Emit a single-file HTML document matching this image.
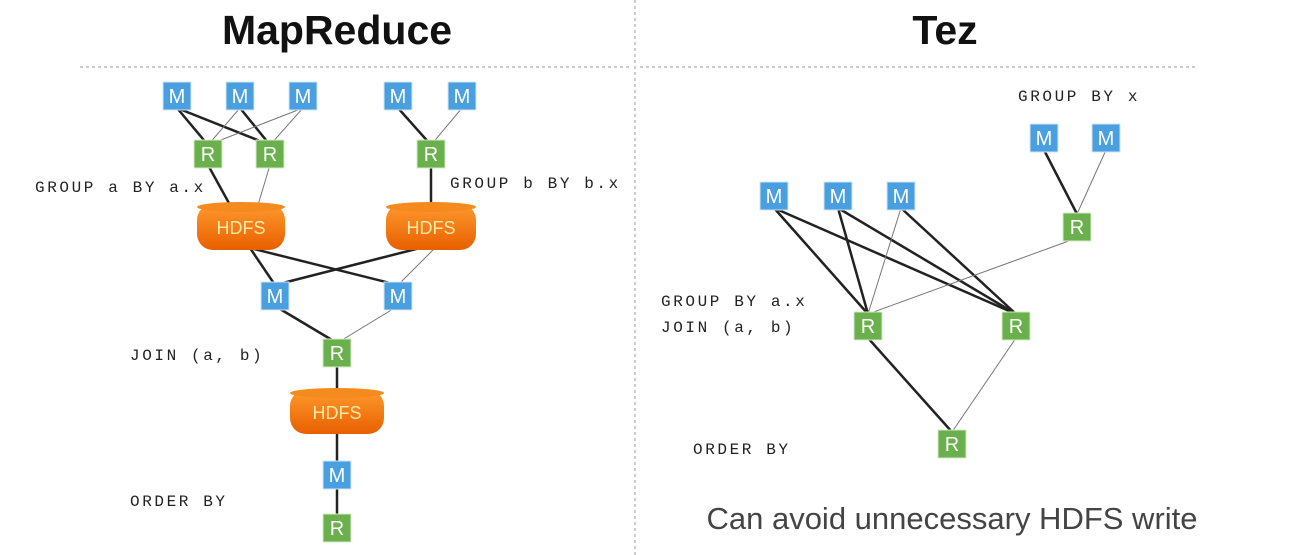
<!DOCTYPE html>
<html><head><meta charset="utf-8"><style>
html,body{margin:0;padding:0;background:#fff;width:1302px;height:555px;overflow:hidden}
</style></head><body>
<svg width="1302" height="555" xmlns="http://www.w3.org/2000/svg">
<defs>
<linearGradient id="hg" x1="0" y1="0" x2="0" y2="1"><stop offset="0" stop-color="#ff9a2e"/><stop offset="1" stop-color="#e85f00"/></linearGradient>
</defs>
<text x="337" y="44" text-anchor="middle" font-family="Liberation Sans, sans-serif" font-weight="bold" font-size="41" fill="#111">MapReduce</text>
<text x="945" y="44" text-anchor="middle" font-family="Liberation Sans, sans-serif" font-weight="bold" font-size="41" fill="#111">Tez</text>
<line x1="80" y1="67" x2="630" y2="67" stroke="#999" stroke-dasharray="3,3"/>
<line x1="640" y1="67" x2="1195" y2="67" stroke="#999" stroke-dasharray="3,3"/>
<line x1="635" y1="0" x2="635" y2="555" stroke="#999" stroke-dasharray="3,3"/>
<g stroke="#222" fill="none">
<g stroke-width="2.5">
<line x1="177" y1="108" x2="208" y2="145"/><line x1="177" y1="108" x2="270" y2="145"/>
<line x1="240" y1="108" x2="270" y2="145"/>
<line x1="208" y1="165" x2="230" y2="205"/>
<line x1="398" y1="108" x2="431" y2="145"/><line x1="431" y1="165" x2="431" y2="205"/>
<line x1="250" y1="248" x2="275" y2="285"/><line x1="250" y1="248" x2="398" y2="285"/>
<line x1="275" y1="285" x2="420" y2="248"/>
<line x1="275" y1="306" x2="337" y2="343"/>
<line x1="337" y1="363" x2="337" y2="392"/><line x1="337" y1="432" x2="337" y2="463"/><line x1="337" y1="488" x2="337" y2="516"/>
<line x1="774" y1="208" x2="868" y2="314"/><line x1="774" y1="208" x2="1016" y2="314"/>
<line x1="838" y1="208" x2="868" y2="314"/><line x1="838" y1="208" x2="1016" y2="314"/>
<line x1="901" y1="208" x2="1016" y2="314"/>
<line x1="1044" y1="150" x2="1077" y2="214"/>
<line x1="868" y1="338" x2="952" y2="432"/>
</g>
<g stroke-width="1" stroke="#777">
<line x1="240" y1="108" x2="208" y2="145"/><line x1="303" y1="108" x2="208" y2="145"/><line x1="303" y1="108" x2="270" y2="145"/>
<line x1="270" y1="165" x2="258" y2="205"/>
<line x1="462" y1="108" x2="431" y2="145"/>
<line x1="435" y1="248" x2="398" y2="285"/>
<line x1="398" y1="306" x2="337" y2="343"/>
<line x1="901" y1="208" x2="868" y2="314"/>
<line x1="1077" y1="238" x2="868" y2="314"/>
<line x1="1106" y1="150" x2="1077" y2="214"/>
<line x1="1016" y1="338" x2="952" y2="432"/>
</g>
</g>
<g font-family="Liberation Sans, sans-serif" font-size="20" text-anchor="middle">
<g fill="#4a9fe0" stroke="#cfe6f8" stroke-width="1">
<rect x="163" y="82" width="28" height="28"/><rect x="226" y="82" width="28" height="28"/><rect x="289" y="82" width="28" height="28"/>
<rect x="384" y="82" width="28" height="28"/><rect x="448" y="82" width="28" height="28"/>
<rect x="261" y="282" width="28" height="28"/><rect x="384" y="282" width="28" height="28"/>
<rect x="323" y="461" width="28" height="28"/>
<rect x="1030" y="124" width="28" height="28"/><rect x="1092" y="124" width="28" height="28"/>
<rect x="760" y="182" width="28" height="28"/><rect x="824" y="182" width="28" height="28"/><rect x="887" y="182" width="28" height="28"/>
</g>
<g fill="#6ab04c" stroke="#d6ecc9" stroke-width="1">
<rect x="194" y="140" width="28" height="28"/><rect x="256" y="140" width="28" height="28"/><rect x="417" y="140" width="28" height="28"/>
<rect x="323" y="339" width="28" height="28"/><rect x="323" y="514" width="28" height="28"/>
<rect x="1063" y="213" width="28" height="28"/>
<rect x="854" y="312" width="28" height="28"/><rect x="1002" y="312" width="28" height="28"/><rect x="938" y="430" width="28" height="28"/>
</g>
<g fill="#fff">
<text x="177" y="103">M</text><text x="240" y="103">M</text><text x="303" y="103">M</text><text x="398" y="103">M</text><text x="462" y="103">M</text>
<text x="275" y="303">M</text><text x="398" y="303">M</text><text x="337" y="482">M</text>
<text x="1044" y="145">M</text><text x="1106" y="145">M</text>
<text x="774" y="203">M</text><text x="838" y="203">M</text><text x="901" y="203">M</text>
<text x="208" y="161">R</text><text x="270" y="161">R</text><text x="431" y="161">R</text>
<text x="337" y="360">R</text><text x="337" y="535">R</text>
<text x="1077" y="234">R</text><text x="868" y="333">R</text><text x="1016" y="333">R</text><text x="952" y="451">R</text>
</g>
</g>
<g font-family="Liberation Sans, sans-serif" font-size="18" text-anchor="middle">
<g><rect x="197" y="204" width="88" height="46" rx="16" fill="url(#hg)"/><ellipse cx="241" cy="207" rx="44" ry="5" fill="#f58a1f"/><text x="241" y="234" fill="#ffe9a8">HDFS</text></g>
<g><rect x="386" y="204" width="90" height="46" rx="16" fill="url(#hg)"/><ellipse cx="431" cy="207" rx="45" ry="5" fill="#f58a1f"/><text x="431" y="234" fill="#ffe9a8">HDFS</text></g>
<g><rect x="290" y="390" width="94" height="44" rx="16" fill="url(#hg)"/><ellipse cx="337" cy="393" rx="47" ry="5" fill="#f58a1f"/><text x="337" y="419" fill="#ffe9a8">HDFS</text></g>
</g>
<g font-family="Liberation Mono, monospace" font-size="16" letter-spacing="2.6" fill="#222">
<text x="35" y="192">GROUP a BY a.x</text>
<text x="450" y="188">GROUP b BY b.x</text>
<text x="130" y="360">JOIN (a, b)</text>
<text x="130" y="506">ORDER BY</text>
<text x="1018" y="101">GROUP BY x</text>
<text x="661" y="306">GROUP BY a.x</text>
<text x="661" y="332">JOIN (a, b)</text>
<text x="693" y="454">ORDER BY</text>
</g>
<text x="952" y="529" text-anchor="middle" font-family="Liberation Sans, sans-serif" font-size="31" fill="#444">Can avoid unnecessary HDFS write</text>
</svg>
</body></html>
